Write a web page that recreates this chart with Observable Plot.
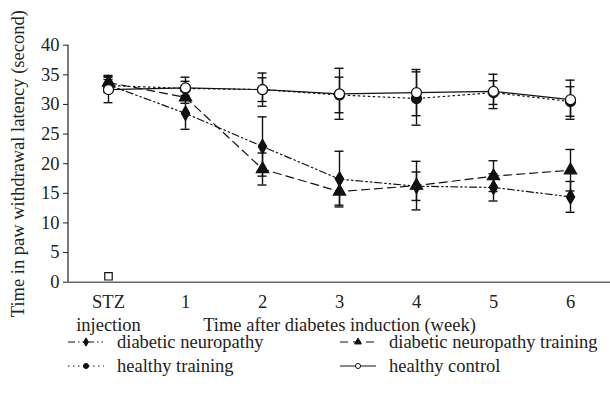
<!DOCTYPE html>
<html>
<head>
<meta charset="utf-8">
<script src="https://cdn.jsdelivr.net/npm/d3@7"></script>
<script src="https://cdn.jsdelivr.net/npm/@observablehq/plot@0.6"></script>
<style>
  body { margin: 0; background: #fff; font-family: "Liberation Serif", serif; }
  #wrap { position: relative; width: 610px; height: 405px; }
  .leg { position: absolute; font-size: 18.5px; color: #222; display: flex; align-items: center; height: 24px; }
  .leg svg { margin-right: 13px; }
</style>
</head>
<body>
<div id="wrap"></div>
<script>
const weeks = ["STZ", "1", "2", "3", "4", "5", "6"];
const weekLabels = ["STZ\ninjection", "1", "2", "3", "4", "5", "6"];
const yTitle = "Time in paw withdrawal latency (second)";
const xTitle = "Time after diabetes induction (week)";

const diabeticNeuropathy = [33.3, 28.5, 22.9, 17.4, 16.2, 16.0, 14.4];
const diabeticNeuropathyErr = [1.3, 2.7, 5.0, 4.7, 2.4, 2.3, 2.6];

const diabeticNeuropathyTraining = [33.7, 31.2, 19.1, 15.3, 16.3, 17.9, 18.9];
const diabeticNeuropathyTrainingErr = [1.2, 1.0, 2.7, 2.3, 4.1, 2.6, 3.5];

const healthyTraining = [33.2, 32.7, 32.5, 31.6, 31.0, 32.0, 30.5];
const healthyTrainingErr = [1.0, 1.2, 2.0, 3.0, 4.5, 2.0, 2.5];

const healthyControl = [32.5, 32.8, 32.5, 31.8, 32.0, 32.2, 30.8];
const healthyControlErr = [2.2, 1.8, 2.8, 4.3, 3.9, 2.9, 3.3];

const squareMarker = [{week: "STZ", value: 1.0}];

const yTicks = [0, 5, 10, 15, 20, 25, 30, 35, 40];

const seriesDefs = [
  {name: "diabetic neuropathy", values: diabeticNeuropathy, err: diabeticNeuropathyErr, dash: "7,3,1.5,3,1.5,3", symbol: "diamond", fill: "#111"},
  {name: "diabetic neuropathy training", values: diabeticNeuropathyTraining, err: diabeticNeuropathyTrainingErr, dash: "8,5", symbol: "triangle", fill: "#111"},
  {name: "healthy training", values: healthyTraining, err: healthyTrainingErr, dash: "1.5,3.5", symbol: "circle", fill: "#111"},
  {name: "healthy control", values: healthyControl, err: healthyControlErr, dash: null, symbol: "circle", fill: "#fff"}
];

const rows = s => weeks.map((w, i) => ({week: w, value: s.values[i], lo: s.values[i] - s.err[i], hi: s.values[i] + s.err[i]}));

const FS = 18.5;
const marks = [];
marks.push(Plot.ruleY([0], {stroke: "#666", strokeWidth: 1.6}));
for (const s of seriesDefs) {
  marks.push(Plot.line(rows(s), {x: "week", y: "value", stroke: "#111", strokeWidth: 1.2, strokeDasharray: s.dash}));
}
for (const s of seriesDefs) {
  const r = rows(s);
  marks.push(Plot.ruleX(r, {x: "week", y1: "lo", y2: "hi", stroke: "#111", strokeWidth: 1.4}));
  marks.push(Plot.ruleY(r, {x1: "week", x2: "week", y: "lo", stroke: "#111", strokeWidth: 1.4, insetLeft: -4.5, insetRight: -4.5}));
  marks.push(Plot.ruleY(r, {x1: "week", x2: "week", y: "hi", stroke: "#111", strokeWidth: 1.4, insetLeft: -4.5, insetRight: -4.5}));
}
for (const s of seriesDefs) {
  const sym = s.symbol;
  const r = sym === "circle" ? 5 : sym === "triangle" ? 4.6 : 4.4;
  marks.push(Plot.dot(rows(s), {x: "week", y: "value", symbol: sym, r, fill: s.fill, stroke: "#111", strokeWidth: 1.2}));
}
marks.push(Plot.dot(squareMarker, {x: "week", y: "value", symbol: "square", r: 4.2, fill: "#fff", stroke: "#111", strokeWidth: 1.2}));

marks.push(Plot.axisY({
  ticks: yTicks, tickSize: 5, tickPadding: 4, fontSize: FS, label: null
}));
marks.push(Plot.text([yTitle], {
  frameAnchor: "left", dx: -50, rotate: -90, textAnchor: "middle", lineAnchor: "middle",
  fontSize: FS, fill: "#222"
}));
marks.push(Plot.text(weeks, {
  x: d => d, text: d => weekLabels[weeks.indexOf(d)], frameAnchor: "bottom",
  lineAnchor: "top", dy: 9, lineHeight: 1.25, fontSize: FS, fill: "#222"
}));
marks.push(Plot.text([xTitle], {
  frameAnchor: "bottom", dy: 43, textAnchor: "middle", lineAnchor: "middle",
  fontSize: FS, fill: "#222"
}));

const chart = Plot.plot({
  width: 610,
  height: 332,
  marginLeft: 68,
  marginRight: 0,
  marginTop: 44.7,
  marginBottom: 50.3,
  style: {fontFamily: "Liberation Serif, serif", fontSize: "18.5px", color: "#222", background: "#fff", overflow: "visible"},
  x: {type: "point", domain: weeks, padding: 0.5, label: null, axis: null},
  y: {domain: [0, 40], label: null},
  marks
});

const xs = chart.scale("x");
const ys = chart.scale("y");
d3.select(chart).append("line")
  .attr("x1", xs.range[0]).attr("x2", xs.range[0])
  .attr("y1", ys.apply(0)).attr("y2", ys.apply(40))
  .attr("stroke", "#222").attr("stroke-width", 1.2);

const wrap = document.getElementById("wrap");
wrap.appendChild(chart);

const legendPos = [
  {left: 68, top: 330, text: 0},
  {left: 340, top: 330, text: 1},
  {left: 68, top: 354, text: 2},
  {left: 340, top: 354, text: 3}
];
legendPos.forEach(p => {
  const s = seriesDefs[p.text];
  const div = document.createElement("div");
  div.className = "leg";
  div.style.left = p.left + "px";
  div.style.top = p.top + "px";
  const sw = d3.create("svg").attr("width", 36).attr("height", 14);
  sw.append("line").attr("x1", 0).attr("x2", 36).attr("y1", 7).attr("y2", 7)
    .attr("stroke", "#111").attr("stroke-width", 1.2)
    .attr("stroke-dasharray", s.dash || null);
  const sym = s.symbol === "circle" ? d3.symbolCircle : s.symbol === "triangle" ? d3.symbolTriangle : d3.symbolDiamond;
  sw.append("path").attr("transform", "translate(18,7)").attr("d", d3.symbol(sym, 20)())
    .attr("fill", s.fill).attr("stroke", "#111").attr("stroke-width", 1);
  div.appendChild(sw.node());
  const t = document.createElement("span");
  t.textContent = s.name;
  div.appendChild(t);
  wrap.appendChild(div);
});
</script>
</body>
</html>
